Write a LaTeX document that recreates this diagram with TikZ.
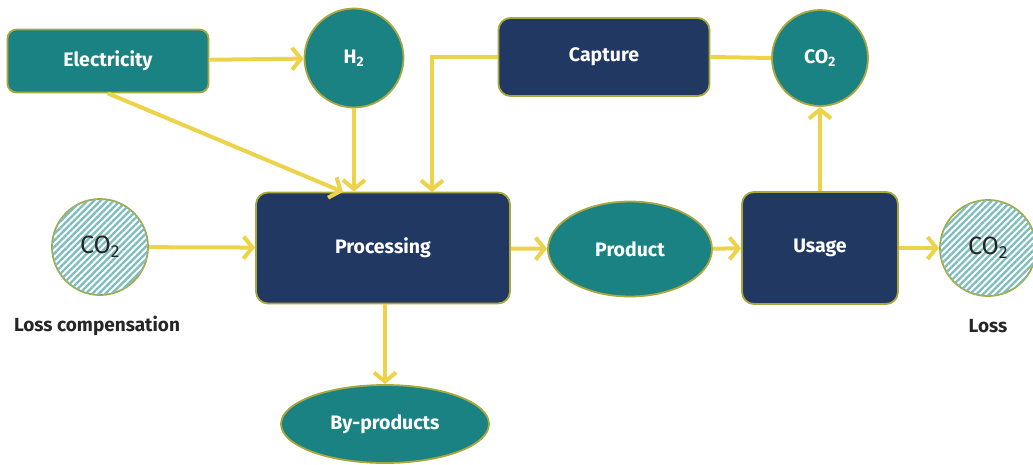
\documentclass[tikz,border=0pt]{standalone}
\usepackage{fontspec}
\setmainfont{Fira Sans}
\usetikzlibrary{arrows.meta,shapes.geometric,patterns.meta}
\definecolor{tealc}{HTML}{1A8282}
\definecolor{navyc}{HTML}{213862}
\definecolor{yelc}{HTML}{EDD34A}
\definecolor{bordc}{HTML}{A9A83C}
\definecolor{hatchc}{HTML}{7DBDBD}
\begin{document}
\begin{tikzpicture}[x=1pt,y=-1pt,
  base/.style={draw=bordc,line width=1.8pt,text=white,font=\fontsize{19.5}{22}\selectfont\bfseries},
  tealbox/.style={base,fill=tealc,rounded corners=9pt,rectangle},
  navybox/.style={base,fill=navyc,rounded corners=12pt,rectangle},
  tealcirc/.style={base,fill=tealc,circle,inner sep=0pt},
  tealell/.style={base,fill=tealc,ellipse,inner sep=0pt},
  hatchcirc/.style={draw=bordc,line width=1.8pt,circle,inner sep=0pt,minimum size=96pt,
     fill=white,postaction={pattern={Lines[angle=45,distance=4.6pt,line width=2.3pt]},pattern color=hatchc},
     text=black!85,font=\fontsize{25}{28}\selectfont},
  lbl/.style={text=black!85,font=\fontsize{19}{22}\selectfont\bfseries},
  arr/.style={yelc,line width=4pt,-{Straight Barb[length=9pt,width=22pt,line width=4pt]}},
  ln/.style={yelc,line width=4pt}]
\useasboundingbox (0,0) rectangle (1033,464);
\node[tealbox,minimum width=201pt,minimum height=63pt] (el) at (108,61) {Electricity};
\node[tealcirc,minimum size=99pt] (h2) at (354,58) {H\textsubscript{2}};
\node[navybox,minimum width=211pt,minimum height=78pt] (cap) at (604,57) {Capture};
\node[tealcirc,minimum size=96pt] (co2t) at (820,58) {CO\textsubscript{2}};
\node[hatchcirc] (co2l) at (100,247) {CO\textsubscript{2}};
\node[navybox,minimum width=254pt,minimum height=111pt] (proc) at (383,248) {Processing};
\node[tealell,minimum width=164pt,minimum height=95pt] (prod) at (630,249) {Product};
\node[navybox,minimum width=156pt,minimum height=112pt] (use) at (820,248) {Usage};
\node[hatchcirc] (co2r) at (988,248) {CO\textsubscript{2}};
\node[tealell,minimum width=208pt,minimum height=78pt] (byp) at (385,424) {By-products};
\node[lbl] (lc) at (97,326) {Loss compensation};
\node[lbl] (lo) at (988,326) {Loss};
\coordinate (pin1) at (343,192);
\coordinate (pin3) at (432,192);
\draw[arr] (el) -- (h2);
\draw[arr] (el.south) -- (pin1);
\draw[arr] (h2.south) -- (h2.south |- proc.north);
\draw[arr] (cap.west) -| (pin3);
\draw[ln] (cap.east) -- (co2t.west);
\draw[arr] (use.north) -- (co2t.south);
\draw[arr] (co2l) -- (proc);
\draw[arr] (proc) -- (prod);
\draw[arr] (prod) -- (use);
\draw[arr] (use) -- (co2r);
\draw[arr] (proc.south -| byp.north) -- (byp.north);
\end{tikzpicture}
\end{document}
